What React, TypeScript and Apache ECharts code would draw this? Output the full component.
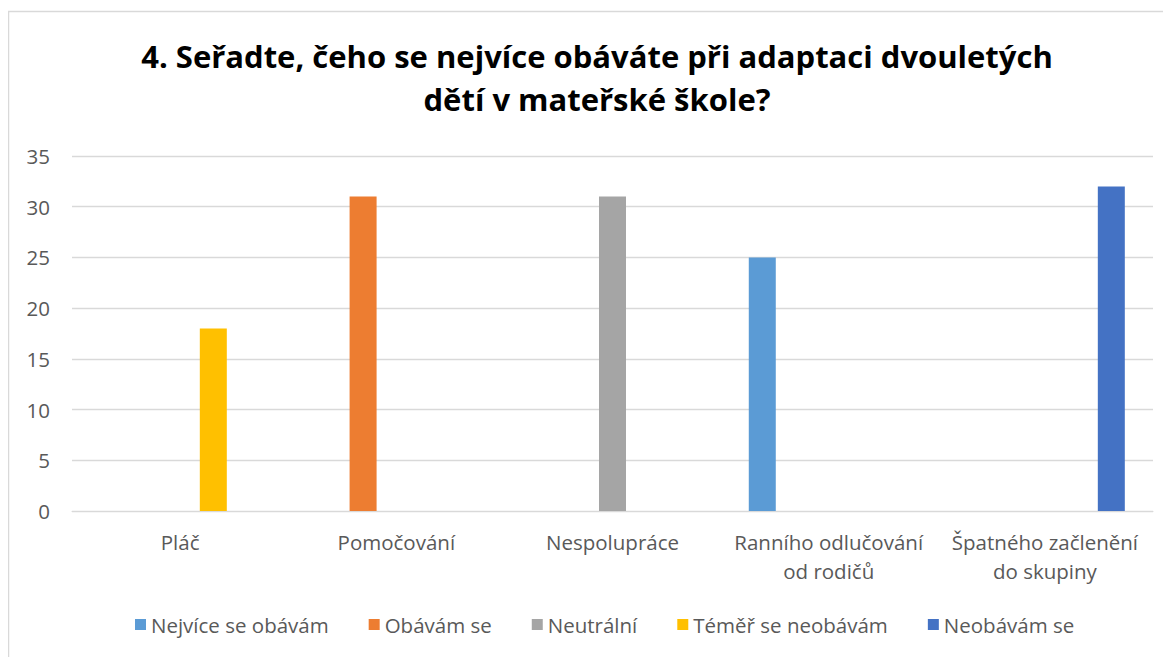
import React, { useEffect, useRef } from "react";
import * as echarts from "echarts";

const categories = [
  "Pláč",
  "Pomočování",
  "Nespolupráce",
  "Ranního odlučování\nod rodičů",
  "Špatného začlenění\ndo skupiny",
];
const seriesNames = [
  "Nejvíce se obávám",
  "Obávám se",
  "Neutrální",
  "Téměř se neobávám",
  "Neobávám se",
];
const seriesColors = ["#5B9BD5", "#ED7D31", "#A5A5A5", "#FFC000", "#4472C4"];
const nejviceValues = [0, 0, 0, 25, 0];
const obavamValues = [0, 31, 0, 0, 0];
const neutralniValues = [0, 0, 31, 0, 0];
const temerValues = [18, 0, 0, 0, 0];
const neobavamValues = [0, 0, 0, 0, 32];
const seriesValues = [nejviceValues, obavamValues, neutralniValues, temerValues, neobavamValues];
const titleText = "4. Seřadte, čeho se nejvíce obáváte při adaptaci dvouletých\ndětí v mateřské škole?";

const FONT = "'Open Sans', sans-serif";
const LABEL_SIZE = 20.5;

export default function App() {
  const ref = useRef<HTMLDivElement>(null);
  useEffect(() => {
    if (!ref.current) return;
    const chart = echarts.init(ref.current, undefined, { renderer: "svg" });
    chart.setOption({
      animation: false,
      backgroundColor: "#ffffff",
      title: {
        text: titleText,
        left: 584,
        top: 21,
        textAlign: "center",
        textStyle: {
          fontFamily: FONT,
          fontWeight: "bold",
          fontSize: 31,
          lineHeight: 43,
          color: "#000000",
        },
      },
      graphic: [
        {
          type: "rect",
          shape: { x: 0.5, y: 3.5, width: 1300, height: 800 },
          style: { fill: "none", stroke: "#D9D9D9", lineWidth: 1.5 },
          silent: true,
        },
      ],
      legend: {
        bottom: 17,
        left: 122,
        itemWidth: 11,
        itemHeight: 11,
        itemGap: 40,
        icon: "rect",
        textStyle: { fontFamily: FONT, fontSize: LABEL_SIZE, color: "#595959" },
        data: seriesNames,
      },
      grid: { left: 64, right: 18, top: 148, bottom: 146 },
      xAxis: {
        type: "category",
        data: categories,
        axisLine: { show: true, lineStyle: { color: "#D9D9D9", width: 1 } },
        axisTick: { show: false },
        axisLabel: {
          fontFamily: FONT,
          fontSize: LABEL_SIZE,
          color: "#595959",
          margin: 16,
          lineHeight: 29,
          interval: 0,
        },
      },
      yAxis: {
        type: "value",
        min: 0,
        max: 35,
        interval: 5,
        axisLine: { show: false },
        axisTick: { show: false },
        splitLine: { lineStyle: { color: "#D9D9D9", width: 1.3 } },
        axisLabel: {
          fontFamily: FONT,
          fontSize: LABEL_SIZE,
          color: "#595959",
          margin: 22,
        },
      },
      series: seriesNames.map((name, i) => ({
        name,
        type: "bar",
        data: seriesValues[i],
        barWidth: 27,
        barGap: "23%",
        itemStyle: { color: seriesColors[i] },
      })),
    });
    return () => chart.dispose();
  }, []);
  return <div ref={ref} style={{ width: 1163, height: 649 }} />;
}
